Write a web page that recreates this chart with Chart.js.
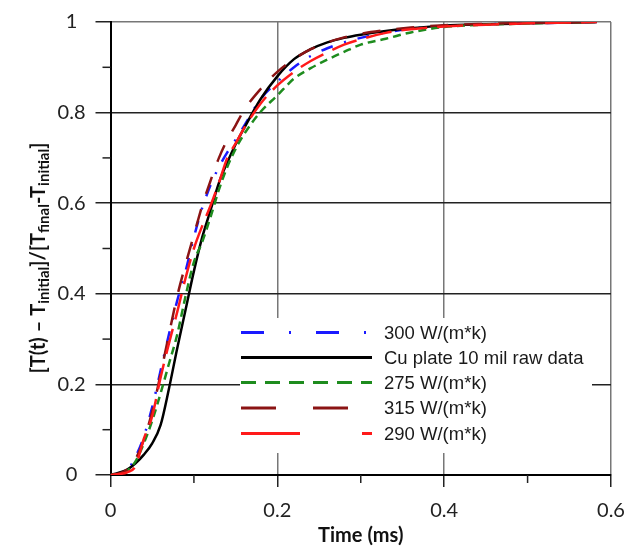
<!DOCTYPE html>
<html>
<head>
<meta charset="utf-8">
<script src="https://cdn.jsdelivr.net/npm/chart.js@4.4.1/dist/chart.umd.min.js"></script>
<style>
  html, body { margin: 0; padding: 0; background: #fff; }
</style>
</head>
<body>
<canvas id="chart" width="643" height="550"></canvas>
<script>
// time axis (ms) shared by every series
const timeMs = [0, 0.01, 0.02, 0.03, 0.04, 0.05, 0.06, 0.07, 0.08, 0.09, 0.10, 0.11, 0.12, 0.13, 0.14, 0.15, 0.16, 0.18, 0.20, 0.22, 0.24, 0.26, 0.28, 0.30, 0.33, 0.36, 0.40, 0.45, 0.50, 0.55, 0.583];

const k300 = [0, 0.002, 0.01, 0.04, 0.085, 0.15, 0.23, 0.31, 0.385, 0.45, 0.525, 0.59, 0.64, 0.68, 0.712, 0.74, 0.77, 0.83, 0.868, 0.9, 0.925, 0.942, 0.955, 0.965, 0.977, 0.985, 0.991, 0.995, 0.997, 0.999, 1.0];
const cuRaw = [0, 0.005, 0.012, 0.026, 0.045, 0.07, 0.11, 0.19, 0.28, 0.365, 0.45, 0.525, 0.585, 0.645, 0.69, 0.73, 0.765, 0.83, 0.88, 0.918, 0.94, 0.955, 0.965, 0.972, 0.98, 0.986, 0.992, 0.995, 0.997, 0.999, 1.0];
const k275 = [0, 0.002, 0.01, 0.03, 0.07, 0.12, 0.18, 0.245, 0.31, 0.395, 0.47, 0.515, 0.57, 0.63, 0.68, 0.72, 0.752, 0.802, 0.838, 0.875, 0.898, 0.917, 0.934, 0.95, 0.963, 0.977, 0.989, 0.994, 0.997, 0.999, 1.0];
const k315 = [0, 0.003, 0.012, 0.035, 0.078, 0.14, 0.222, 0.31, 0.395, 0.465, 0.53, 0.595, 0.65, 0.7, 0.74, 0.772, 0.805, 0.852, 0.89, 0.918, 0.94, 0.955, 0.966, 0.974, 0.982, 0.988, 0.993, 0.996, 0.998, 0.999, 1.0];
const k290 = [0, 0.002, 0.006, 0.02, 0.08, 0.13, 0.215, 0.29, 0.36, 0.435, 0.5, 0.55, 0.595, 0.645, 0.7, 0.732, 0.765, 0.82, 0.86, 0.89, 0.914, 0.933, 0.95, 0.962, 0.976, 0.984, 0.99, 0.994, 0.997, 0.999, 1.0];

const seriesNames = ['300 W/(m*k)', 'Cu plate 10 mil raw data', '275 W/(m*k)', '315 W/(m*k)', '290 W/(m*k)'];
const xTicks = [0, 0.2, 0.4, 0.6];
const yTicks = [0, 0.2, 0.4, 0.6, 0.8, 1];
const xMinor = [0.1, 0.3, 0.5];
const yMinor = [0.1, 0.3, 0.5, 0.7, 0.9];

const toPoints = (vals) => vals.map((v, i) => ({ x: timeMs[i], y: v }));

const lineStyles = [
  { color: '#1a1aff', dash: [12, 12, 2, 12], legendDash: [23, 25, 2, 25], order: 5 },
  { color: '#000000', dash: [], legendDash: [], order: 4 },
  { color: '#1e8c1e', dash: [8, 5], legendDash: [15, 9], order: 3 },
  { color: '#8b1414', dash: [18, 16], legendDash: [35, 37], order: 2 },
  { color: '#ff1a1a', dash: [26, 10], legendDash: [59, 62], order: 1 },
];
const seriesData = [k300, cuRaw, k275, k315, k290];

const datasets = seriesData.map((vals, i) => ({
  label: seriesNames[i],
  data: toPoints(vals),
  borderColor: lineStyles[i].color,
  borderDash: lineStyles[i].dash,
  borderWidth: 2.5,
  pointRadius: 0,
  fill: false,
  cubicInterpolationMode: 'monotone',
  order: lineStyles[i].order,
}));

// minor ticks, in-plot legend and the y title with subscripts
const decorPlugin = {
  id: 'decor',
  afterDraw(chart) {
    const { ctx, chartArea, scales: { x, y } } = chart;
    ctx.save();

    ctx.strokeStyle = '#222';
    ctx.lineWidth = 1.5;
    xMinor.forEach(v => {
      const px = x.getPixelForValue(v);
      ctx.beginPath();
      ctx.moveTo(px, chartArea.bottom);
      ctx.lineTo(px, chartArea.bottom + 8);
      ctx.stroke();
    });
    yMinor.forEach(v => {
      const py = y.getPixelForValue(v);
      ctx.beginPath();
      ctx.moveTo(chartArea.left, py);
      ctx.lineTo(chartArea.left - 8, py);
      ctx.stroke();
    });

    // legend
    ctx.fillStyle = '#fff';
    ctx.fillRect(240, 318, 352, 135);
    ctx.font = '18.5px "Liberation Sans", Arial, sans-serif';
    ctx.textBaseline = 'middle';
    ctx.textAlign = 'left';
    const rows = [332.5, 357.5, 382.5, 408, 433.5];
    chart.data.datasets.forEach((ds, i) => {
      const ly = rows[i];
      ctx.strokeStyle = ds.borderColor;
      ctx.lineWidth = 3;
      ctx.setLineDash(lineStyles[i].legendDash);
      ctx.beginPath();
      ctx.moveTo(241, ly);
      ctx.lineTo(372, ly);
      ctx.stroke();
      ctx.setLineDash([]);
      ctx.fillStyle = '#1a1a1a';
      ctx.fillText(ds.label, 384, ly + 1);
    });

    // y axis title
    const parts = [
      ['[T(t) \u2013 T', false], ['initial', true], [']/[T', false], ['final', true],
      ['-T', false], ['initial', true], [']', false],
    ];
    const mainFont = 'bold 20px Lato, sans-serif';
    const subFont = 'bold 15px Lato, sans-serif';
    let total = 0;
    parts.forEach(([t, sub]) => { ctx.font = sub ? subFont : mainFont; total += ctx.measureText(t).width; });
    ctx.translate(38, 258);
    ctx.rotate(-Math.PI / 2);
    ctx.fillStyle = '#111';
    ctx.textBaseline = 'alphabetic';
    let cx = -total / 2;
    parts.forEach(([t, sub]) => {
      ctx.font = sub ? subFont : mainFont;
      ctx.fillText(t, cx, sub ? 11 : 7);
      cx += ctx.measureText(t).width;
    });
    ctx.restore();
  }
};

new Chart(document.getElementById('chart'), {
  type: 'line',
  data: { datasets: datasets },
  options: {
    responsive: false,
    animation: false,
    layout: { padding: { top: 19, right: 32, left: 0, bottom: 0 } },
    plugins: { legend: { display: false }, tooltip: { enabled: false } },
    scales: {
      x: {
        type: 'linear',
        min: 0,
        max: 0.6,
        afterBuildTicks: (s) => { s.ticks = xTicks.map(v => ({ value: v })); },
        afterFit: (s) => { s.height = 75; },
        ticks: {
          font: { family: 'Lato', size: 20 },
          color: '#222',
          padding: 12,
          maxRotation: 0,
          callback: (v) => String(+v.toFixed(1)),
        },
        grid: {
          color: (c) => (c.tick && c.tick.value === 0 ? 'rgba(0,0,0,0)' : '#777'),
          lineWidth: 1.5,
          tickLength: 12,
          tickColor: '#222',
        },
        border: { color: '#000', width: 2 },
        title: {
          display: true,
          text: 'Time (ms)',
          font: { family: 'Lato', size: 20, weight: 'bold' },
          color: '#111',
          padding: { top: 0, bottom: 2 },
        },
      },
      y: {
        min: 0,
        max: 1,
        afterBuildTicks: (s) => { s.ticks = yTicks.map(v => ({ value: v })); },
        afterFit: (s) => { s.width = 110.5; },
        ticks: {
          font: { family: 'Lato', size: 20 },
          color: '#222',
          padding: 10,
          crossAlign: 'center',
          callback: (v) => String(+v.toFixed(1)),
        },
        grid: {
          color: (c) => {
            if (!c.tick) return '#222';
            if (c.tick.value === 0) return 'rgba(0,0,0,0)';
            return c.tick.value === 1 ? '#777' : '#222';
          },
          lineWidth: 1.5,
          tickLength: 15,
          tickColor: '#222',
        },
        border: { color: '#000', width: 2 },
      },
    },
  },
  plugins: [decorPlugin],
});
</script>
</body>
</html>
